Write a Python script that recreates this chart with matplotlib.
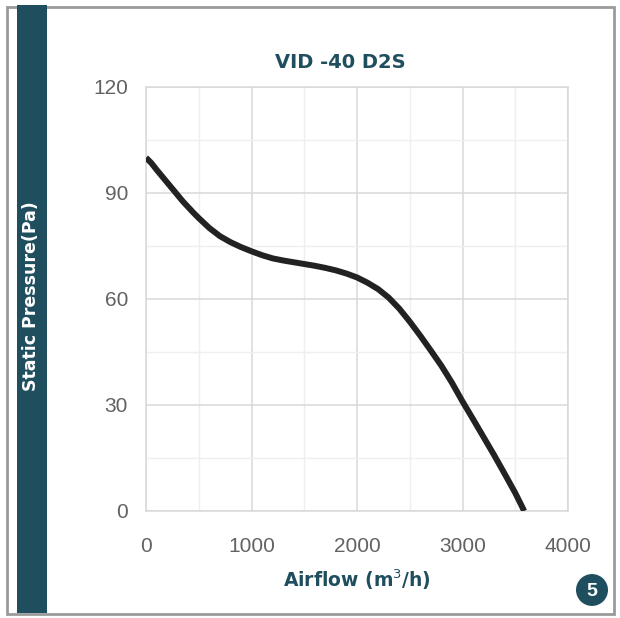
import matplotlib
matplotlib.use("Agg")
import matplotlib.pyplot as plt
from matplotlib.patches import Rectangle, Circle
from matplotlib.ticker import MultipleLocator

# ---- data ----
title = "VID -40 D2S"
xlabel = "Airflow (m$^3$/h)"
ylabel = "Static Pressure(Pa)"
badge = "5"
airflow = [0, 50, 100, 150, 200, 250, 300, 350, 400, 450, 500, 600, 700,
           800, 900, 1000, 1100, 1200, 1300, 1400, 1500, 1600, 1700, 1800,
           1900, 2000, 2100, 2200, 2300, 2400, 2500, 2600, 2700, 2800, 2900,
           3000, 3100, 3200, 3300, 3400, 3500, 3585]
pressure = [100, 98.5, 96.6, 94.8, 93, 91.2, 89.4, 87.6, 86, 84.4, 82.9,
            80.1, 77.8, 76.1, 74.7, 73.5, 72.4, 71.5, 70.9, 70.4, 69.9,
            69.4, 68.8, 68.1, 67.2, 66.1, 64.6, 62.8, 60.4, 57.3, 53.6,
            49.6, 45.4, 41.1, 36.3, 31, 26, 20.9, 15.8, 10.5, 5.1, 0]
xticks = [0, 1000, 2000, 3000, 4000]
yticks = [0, 30, 60, 90, 120]

teal = "#1f4f5e"
gray_txt = "#626262"

plt.rcParams['font.family'] = ['Liberation Sans', 'DejaVu Sans']

fig = plt.figure(figsize=(6.2, 6.18), dpi=100)
W, H = 620, 618

def fx(px):
    return px / W

def fy(py):
    return 1 - py / H

# outer frame
fig.patches.append(Rectangle((fx(7), fy(614)), fx(607), (607) / H,
                             transform=fig.transFigure, facecolor="white",
                             edgecolor="#9a9a9a", linewidth=2.0, zorder=-2))
# teal band
fig.patches.append(Rectangle((fx(17), fy(613)), fx(30), 608 / H,
                             transform=fig.transFigure, facecolor=teal,
                             edgecolor="none", zorder=-1))

ax = fig.add_axes([fx(146), fy(511), fx(568 - 146), (511 - 87) / H])
ax.set_zorder(1)
ax.set_facecolor("none")
ax.plot(airflow, pressure, color="#222222", linewidth=4.3,
        solid_capstyle="butt", solid_joinstyle="round", zorder=3)
ax.set_xlim(0, 4000)
ax.set_ylim(0, 120)
ax.set_xticks(xticks)
ax.set_yticks(yticks)
ax.xaxis.set_minor_locator(MultipleLocator(500))
ax.yaxis.set_minor_locator(MultipleLocator(15))
ax.grid(which="major", color="#d8d8d8", linewidth=1.1)
ax.grid(which="minor", color="#efefef", linewidth=1.0)
ax.set_axisbelow(True)
for s in ax.spines.values():
    s.set_color("#d8d8d8")
    s.set_linewidth(1.1)
ax.tick_params(which="both", length=0)
ax.tick_params(axis="x", pad=19, labelsize=15, labelcolor=gray_txt)
ax.tick_params(axis="y", pad=13, labelsize=15, labelcolor=gray_txt)

fig.text(fx(340), fy(62), title, ha="center", va="center", fontsize=14,
         fontweight="bold", color=teal, family="DejaVu Sans")
fig.text(fx(357), fy(580), xlabel, ha="center", va="center", fontsize=13.5,
         fontweight="bold", color=teal, family="DejaVu Sans")
fig.text(fx(31), fy(296), ylabel, ha="center", va="center", fontsize=12.5,
         fontweight="bold", color="white", rotation=90, family="DejaVu Sans")

# badge
fig.patches.append(Circle((fx(592), fy(590)), 16 / W,
                          transform=fig.transFigure, facecolor=teal,
                          edgecolor="none", zorder=2))
fig.text(fx(592), fy(591), badge, ha="center", va="center", fontsize=14,
         fontweight="bold", color="white", zorder=3)

fig.savefig("out.png", dpi=100)
